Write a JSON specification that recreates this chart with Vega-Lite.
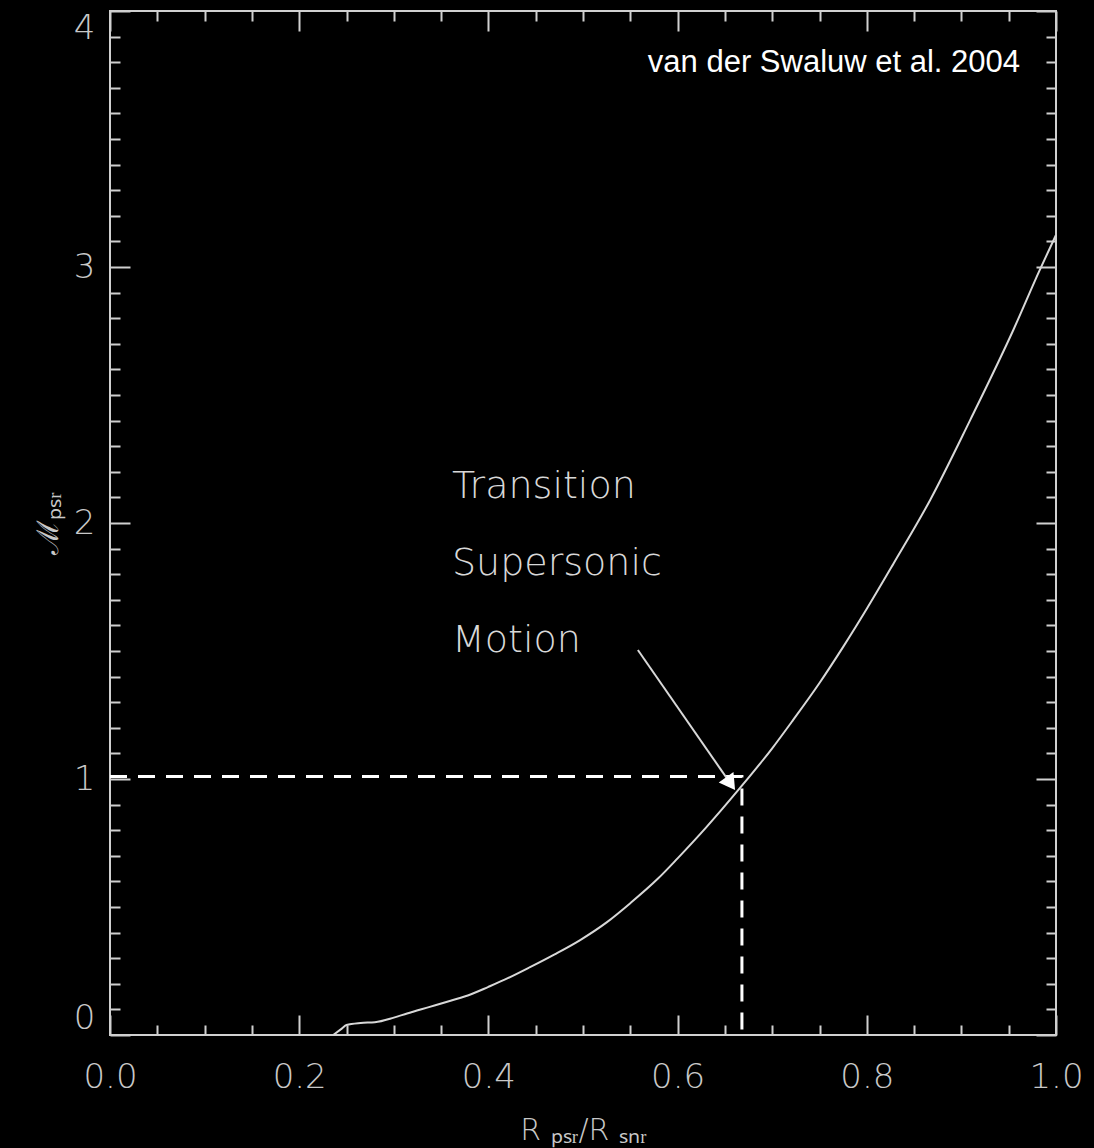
{
  "$schema": "https://vega.github.io/schema/vega-lite/v6.json",
  "width": 946,
  "height": 1024,
  "autosize": {"type": "none"},
  "padding": {"left": 110, "top": 11, "right": 38, "bottom": 113},
  "background": "black",
  "datasets": {
    "curve": [
      {"x": 0.236, "y": 0.0},
      {"x": 0.245, "y": 0.025},
      {"x": 0.250, "y": 0.039},
      {"x": 0.265, "y": 0.047},
      {"x": 0.280, "y": 0.050},
      {"x": 0.300, "y": 0.068},
      {"x": 0.314, "y": 0.084},
      {"x": 0.338, "y": 0.110},
      {"x": 0.360, "y": 0.134},
      {"x": 0.381, "y": 0.158},
      {"x": 0.400, "y": 0.188},
      {"x": 0.420, "y": 0.221},
      {"x": 0.444, "y": 0.265},
      {"x": 0.470, "y": 0.315},
      {"x": 0.497, "y": 0.371},
      {"x": 0.525, "y": 0.440},
      {"x": 0.550, "y": 0.515},
      {"x": 0.579, "y": 0.610},
      {"x": 0.600, "y": 0.690},
      {"x": 0.630, "y": 0.810},
      {"x": 0.666, "y": 0.965},
      {"x": 0.700, "y": 1.120},
      {"x": 0.722, "y": 1.230},
      {"x": 0.750, "y": 1.375},
      {"x": 0.775, "y": 1.516},
      {"x": 0.800, "y": 1.665},
      {"x": 0.828, "y": 1.840},
      {"x": 0.867, "y": 2.090},
      {"x": 0.909, "y": 2.400},
      {"x": 0.955, "y": 2.755},
      {"x": 0.983, "y": 2.990},
      {"x": 1.000, "y": 3.125}
    ],
    "dash": [
      {"x": 0.0, "y": 1.01, "seq": 1},
      {"x": 0.668, "y": 1.01, "seq": 2},
      {"x": 0.668, "y": 0.0, "seq": 3}
    ],
    "arrow": [
      {"x": 0.558, "y": 1.504},
      {"x": 0.656, "y": 0.982}
    ],
    "head": [
      {"x": 0.656, "y": 0.982}
    ],
    "notes": [
      {"x": 0.3615, "y": 2.098, "label": "Transition"},
      {"x": 0.3615, "y": 1.797, "label": "Supersonic"},
      {"x": 0.3615, "y": 1.496, "label": "Motion"}
    ],
    "cite": [
      {"x": 0.962, "y": 3.762, "label": "van der Swaluw et al. 2004"}
    ]
  },
  "resolve": {"axis": {"x": "independent", "y": "independent"}},
  "layer": [
    {
      "data": {"name": "curve"},
      "mark": {"type": "line", "color": "#d8d8d8", "strokeWidth": 2, "interpolate": "monotone"},
      "encoding": {
        "x": {
          "field": "x", "type": "quantitative",
          "scale": {"domain": [0, 1], "nice": false, "zero": false},
          "axis": {
            "orient": "bottom",
            "values": [0, 0.05, 0.1, 0.15, 0.2, 0.25, 0.3, 0.35, 0.4, 0.45, 0.5, 0.55, 0.6, 0.65, 0.7, 0.75, 0.8, 0.85, 0.9, 0.95, 1],
            "format": ".1f",
            "labelExpr": "round(datum.value*100)%20==0 ? datum.label : ''",
            "tickSize": {"condition": {"test": "round(datum.value*100)%20==0", "value": -20}, "value": -10},
            "labelPadding": 45,
            "labelFlush": false,
            "title": "R ₚₛᵣ/R ₛₙᵣ",
            "titlePadding": 11
          }
        },
        "y": {
          "field": "y", "type": "quantitative",
          "scale": {"domain": [0, 4], "nice": false, "zero": false},
          "axis": {
            "orient": "left",
            "values": [0, 0.1, 0.2, 0.3, 0.4, 0.5, 0.6, 0.7, 0.8, 0.9, 1, 1.1, 1.2, 1.3, 1.4, 1.5, 1.6, 1.7, 1.8, 1.9, 2, 2.1, 2.2, 2.3, 2.4, 2.5, 2.6, 2.7, 2.8, 2.9, 3, 3.1, 3.2, 3.3, 3.4, 3.5, 3.6, 3.7, 3.8, 3.9, 4],
            "labelExpr": "round(datum.value*10)%10==0 ? format(datum.value, 'd') : ''",
            "tickSize": {"condition": {"test": "round(datum.value*10)%10==0", "value": -20}, "value": -10},
            "labelPadding": 35,
            "labelFlush": true,
            "labelFlushOffset": 0,
            "title": "ℳₚₛᵣ",
            "titlePadding": 10
          }
        }
      }
    },
    {
      "data": {"name": "dash"},
      "mark": {"type": "line", "color": "#ffffff", "strokeWidth": 3, "strokeDash": [17, 11]},
      "encoding": {
        "x": {
          "field": "x", "type": "quantitative",
          "axis": {
            "orient": "top",
            "values": [0, 0.05, 0.1, 0.15, 0.2, 0.25, 0.3, 0.35, 0.4, 0.45, 0.5, 0.55, 0.6, 0.65, 0.7, 0.75, 0.8, 0.85, 0.9, 0.95, 1],
            "labels": false,
            "tickSize": {"condition": {"test": "round(datum.value*100)%20==0", "value": -20}, "value": -10},
            "title": null
          }
        },
        "y": {
          "field": "y", "type": "quantitative",
          "axis": {
            "orient": "right",
            "values": [0, 0.1, 0.2, 0.3, 0.4, 0.5, 0.6, 0.7, 0.8, 0.9, 1, 1.1, 1.2, 1.3, 1.4, 1.5, 1.6, 1.7, 1.8, 1.9, 2, 2.1, 2.2, 2.3, 2.4, 2.5, 2.6, 2.7, 2.8, 2.9, 3, 3.1, 3.2, 3.3, 3.4, 3.5, 3.6, 3.7, 3.8, 3.9, 4],
            "labels": false,
            "tickSize": {"condition": {"test": "round(datum.value*10)%10==0", "value": -20}, "value": -10},
            "title": null
          }
        },
        "order": {"field": "seq", "type": "quantitative"}
      }
    },
    {
      "data": {"name": "arrow"},
      "mark": {"type": "line", "color": "#d8d8d8", "strokeWidth": 2},
      "encoding": {
        "x": {"field": "x", "type": "quantitative", "axis": null},
        "y": {"field": "y", "type": "quantitative", "axis": null}
      }
    },
    {
      "data": {"name": "head"},
      "mark": {"type": "point", "shape": "triangle-up", "filled": true, "color": "#ffffff", "opacity": 1, "size": 324, "angle": 145},
      "encoding": {
        "x": {"field": "x", "type": "quantitative", "axis": null},
        "y": {"field": "y", "type": "quantitative", "axis": null}
      }
    },
    {
      "data": {"name": "notes"},
      "mark": {"type": "text", "align": "left", "baseline": "alphabetic", "font": "DejaVu Sans", "fontWeight": 200, "fontSize": 38, "color": "#d8d8d8"},
      "encoding": {
        "x": {"field": "x", "type": "quantitative", "axis": null},
        "y": {"field": "y", "type": "quantitative", "axis": null},
        "text": {"field": "label"}
      }
    },
    {
      "data": {"name": "cite"},
      "mark": {"type": "text", "align": "right", "baseline": "alphabetic", "font": "Liberation Sans", "fontSize": 31, "color": "#ffffff"},
      "encoding": {
        "x": {"field": "x", "type": "quantitative", "axis": null},
        "y": {"field": "y", "type": "quantitative", "axis": null},
        "text": {"field": "label"}
      }
    }
  ],
  "config": {
    "view": {"stroke": "#d0d0d0", "strokeWidth": 2},
    "axis": {
      "domain": false,
      "grid": false,
      "tickColor": "#d0d0d0",
      "tickWidth": 2,
      "labelColor": "#c8c8c8",
      "labelFont": "DejaVu Sans",
      "labelFontWeight": 200,
      "labelFontSize": 34,
      "labelOverlap": false,
      "titleColor": "#c8c8c8",
      "titleFont": "DejaVu Sans",
      "titleFontWeight": 200,
      "titleFontSize": 30
    }
  }
}
